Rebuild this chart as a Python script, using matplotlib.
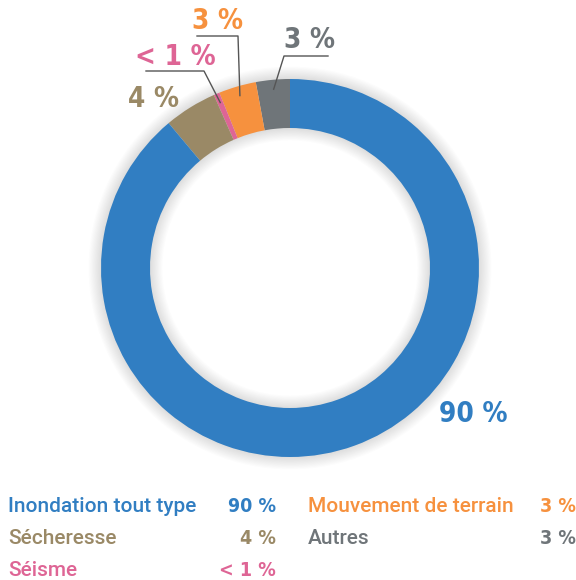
import matplotlib.pyplot as plt
from matplotlib import font_manager
import numpy as np

# legend order
categories = ['Inondation tout type', 'Sécheresse', 'Séisme', 'Mouvement de terrain', 'Autres']
shares = [88.9, 4.5, 0.5, 3.2, 2.9]
shown = ['90 %', '4 %', '< 1 %', '3 %', '3 %']
colors = ['#317ec2', '#9a8966', '#de6595', '#f6913e', '#6f7579']

W, H = 576, 580
CX, CY, R = 290, 268, 189
REG = ['Roboto', 'DejaVu Sans']

# condensed bold face if one is installed
names = {f.name for f in font_manager.fontManager.ttflist}
cond = [f for f in font_manager.fontManager.ttflist
        if ('Narrow' in f.name or 'Condensed' in f.name or f.stretch in ('condensed', 'semi-condensed'))]
if 'Liberation Sans Narrow' in names:
    NARROW = dict(family=['Liberation Sans Narrow', 'Roboto'])
elif cond:
    NARROW = dict(family=[cond[0].name, 'Roboto'], fontstretch=cond[0].stretch)
else:
    NARROW = dict(family=['Roboto', 'DejaVu Sans'])

fig = plt.figure(figsize=(W / 100, H / 100), dpi=100)
ax = fig.add_axes([(CX - R) / W, (H - CY - R) / H, 2 * R / W, 2 * R / H])


def d(px, py):
    return (px - CX) / R, (CY - py) / R

ring = 49 / 189

# soft shadow behind the ring
for k in range(12):
    g = k * 0.006
    ax.pie([1], colors=['#000000'], radius=1 + g, startangle=90,
           wedgeprops=dict(width=ring + 2 * g, edgecolor='none', alpha=0.012))

# pie goes counter-clockwise from the top: Autres, Mouvement, Séisme, Sécheresse, Inondation
order = [4, 3, 2, 1, 0]
wedges, _ = ax.pie([shares[i] for i in order], colors=[colors[i] for i in order],
                   startangle=90, counterclock=True, radius=1,
                   wedgeprops=dict(width=ring, edgecolor='none'))
for w in wedges:
    w.set_zorder(3)

ax.set_xlim(-1, 1)
ax.set_ylim(-1, 1)
ax.set_aspect('equal')
ax.axis('off')

mid = {}
for w, i in zip(wedges, order):
    mid[i] = np.deg2rad((w.theta1 + w.theta2) / 2)

# leaders: (index, elbow px, line end px, text center px)
leaders = [
    (4, (284, 56), (328, 56), (309, 40)),
    (3, (238, 36), (197, 36), (218, 21)),
    (2, (204, 71), (146, 71), (175, 57)),
]
for i, elbow, end, tc in leaders:
    a = mid[i]
    p0 = (0.95 * np.cos(a), 0.95 * np.sin(a))
    e = d(*elbow)
    f = d(*end)
    ax.plot([p0[0], e[0], f[0]], [p0[1], e[1], f[1]], color='#555555', lw=1,
            clip_on=False, zorder=4)
    ax.text(*d(*tc), shown[i], color=colors[i], fontsize=20, fontweight='bold',
            ha='center', va='center', clip_on=False, **NARROW)

ax.text(*d(153, 99), shown[1], color=colors[1], fontsize=20, fontweight='bold',
        ha='center', va='center', clip_on=False, **NARROW)
ax.text(*d(473, 414), shown[0], color=colors[0], fontsize=20, fontweight='bold',
        ha='center', va='center', clip_on=False, **NARROW)

# legend below
rows_y = [507, 538, 570]
slots = [(0, 0), (0, 1), (0, 2), (1, 0), (1, 1)]
col_x = [(8, 276), (308, 576)]
for i, (c, r) in enumerate(slots):
    y = 1 - rows_y[r] / H
    fig.text(col_x[c][0] / W, y, categories[i], color=colors[i], fontsize=15,
             fontweight='medium', family=REG, ha='left', va='center')
    fig.text(col_x[c][1] / W, y, shown[i], color=colors[i], fontsize=14,
             fontweight='bold', ha='right', va='center', **NARROW)

fig.savefig('out.png', dpi=100)
